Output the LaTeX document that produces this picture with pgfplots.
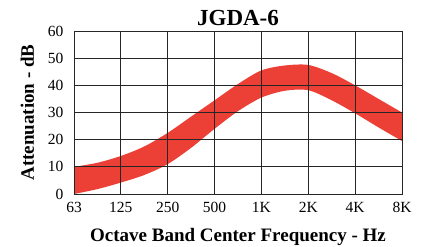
\documentclass[border=0pt]{standalone}
\usepackage{fontspec}
\setmainfont{Liberation Serif}
\usepackage{pgfplots}
\pgfplotsset{compat=1.18}
\usepgfplotslibrary{fillbetween}
\definecolor{bandred}{RGB}{236,64,54}
\begin{document}
\begin{tikzpicture}
\begin{axis}[
  scale only axis,
  width=328pt, height=163pt,
  xmin=0, xmax=7, ymin=0, ymax=60,
  xtick={0,1,2,3,4,5,6,7},
  xticklabels={63,125,250,500,1K,2K,4K,8K},
  ytick={0,10,20,30,40,50,60},
  grid=major,
  major grid style={black!85, line width=0.8pt},
  axis line style={black!85, line width=0.9pt},
  tick style={draw=none},
  /pgf/number format/assume math mode=true,
  tick label style={font=\fontsize{15.5}{15.5}\selectfont},
  xticklabel style={yshift=-5pt},
  yticklabel style={xshift=-7pt},
  title={\textbf{JGDA-6}},
  title style={font=\fontsize{23}{23}\selectfont, yshift=-4pt},
  xlabel={\textbf{Octave Band Center Frequency - Hz}},
  ylabel={\textbf{Attenuation - dB}},
  label style={font=\fontsize{19}{19}\selectfont},
  xlabel style={yshift=-8pt},
  ylabel style={yshift=7pt},
  axis on top,
  clip=true,
]
\addplot[name path=upper, draw=none, smooth] coordinates {
 (0,10) (0.5,11.5) (1,14) (1.5,17.5) (2,22.5) (2.5,28.5) (3,34.5) (3.5,40.5) (4,45.5) (4.5,47.3) (5,47.5) (5.5,44.5) (6,40) (6.5,35) (7,30)
};
\addplot[name path=lower, draw=none, smooth] coordinates {
 (0,0) (0.5,1.8) (1,4.2) (1.5,7) (2,11) (2.5,17) (3,24) (3.5,30.5) (4,35.5) (4.5,38) (5,38.2) (5.5,34.5) (6,29.7) (6.5,24.5) (7,19.5)
};
\addplot[bandred, draw=none] fill between[of=upper and lower];
\coordinate (bl) at (rel axis cs:0,0);
\end{axis}
\pgfresetboundingbox
\path (bl) ++(-74pt,-52pt) rectangle ++(422pt,246pt);
\end{tikzpicture}
\end{document}
